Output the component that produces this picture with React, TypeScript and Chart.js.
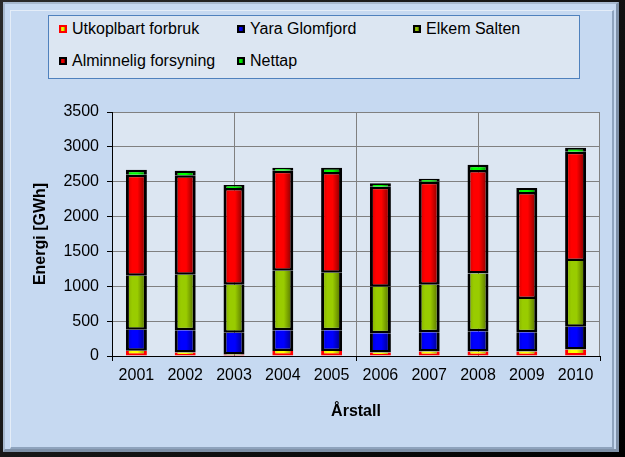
import React, { useEffect, useRef } from "react";
import { Chart, registerables } from "chart.js";

Chart.register(...registerables);

const years = ["2001", "2002", "2003", "2004", "2005", "2006", "2007", "2008", "2009", "2010"];
const utkoplbart = [75, 50, 20, 70, 70, 50, 65, 65, 65, 95];
const yara = [300, 318, 314, 298, 298, 275, 275, 290, 275, 325];
const elkem = [775, 798, 689, 856, 827, 670, 683, 827, 478, 942];
const alminnelig = [1450, 1426, 1387, 1434, 1444, 1434, 1478, 1487, 1534, 1568];
const nettap = [70, 66, 43, 43, 62, 48, 43, 76, 58, 57];

const yTicksMax = 3500;
const yStep = 500;

const FONT = "'Liberation Sans', Arial, sans-serif";
const BAR_PCT = 0.43;

type Series = { label: string; data: number[]; light: string; mid: string; dark: string; border: string; skip: any };
const series: Series[] = [
  { label: "Utkoplbart forbruk", data: utkoplbart, light: "#ffff00", mid: "#d8d800", dark: "#8a8a00", border: "#ff0000", skip: "end" },
  { label: "Yara Glomfjord", data: yara, light: "#0000ff", mid: "#0000c8", dark: "#000070", border: "#000000", skip: "end" },
  { label: "Elkem Salten", data: elkem, light: "#99cc00", mid: "#7fa800", dark: "#4a6300", border: "#000000", skip: "end" },
  { label: "Alminnelig forsyning", data: alminnelig, light: "#ff0000", mid: "#c80000", dark: "#700000", border: "#000000", skip: false },
  { label: "Nettap", data: nettap, light: "#00ff00", mid: "#00c800", dark: "#007000", border: "#000000", skip: "start" },
];

const makeGrad = (s: Series) => (ctx: any) => {
  const chart = ctx.chart;
  const xs = chart.scales && chart.scales.x;
  if (ctx.type !== "data" || !xs || !chart.chartArea) return s.light;
  const cx = xs.getPixelForValue(ctx.dataIndex);
  const w = (xs.width / years.length) * BAR_PCT;
  const g = chart.ctx.createLinearGradient(cx - w / 2, 0, cx + w / 2, 0);
  g.addColorStop(0, s.mid);
  g.addColorStop(0.3, s.light);
  g.addColorStop(0.55, s.light);
  g.addColorStop(1, s.dark);
  return g;
};

const framePlugin = {
  id: "framePlugin",
  beforeDraw(chart: any) {
    const { ctx, chartArea: a } = chart;
    ctx.save();
    ctx.fillStyle = "#dce6f2";
    ctx.fillRect(a.left, a.top, a.right - a.left, a.bottom - a.top);
    ctx.restore();
  },
  beforeDatasetsDraw(chart: any) {
    const { ctx, chartArea: a, scales } = chart;
    const xs = scales.x;
    const px = (i: number) => xs.getPixelForValue(i);
    const lines = [px(2), (px(4) + px(5)) / 2, px(7)];
    ctx.save();
    ctx.strokeStyle = "#808080";
    ctx.lineWidth = 1;
    ctx.beginPath();
    for (const x of lines) {
      const xx = Math.round(x) + 0.5;
      ctx.moveTo(xx, a.top);
      ctx.lineTo(xx, a.bottom);
    }
    const xr = Math.round(a.right) - 0.5;
    ctx.moveTo(xr, a.top);
    ctx.lineTo(xr, a.bottom);
    ctx.stroke();
    ctx.restore();
  },
  afterDraw(chart: any) {
    const { ctx, chartArea: a, scales } = chart;
    const xs = scales.x;
    const px = (i: number) => xs.getPixelForValue(i);
    const half = (px(1) - px(0)) / 2;
    const marks = [px(0) - half, (px(4) + px(5)) / 2, px(years.length - 1) + half];
    ctx.save();
    ctx.strokeStyle = "#000000";
    ctx.lineWidth = 1;
    ctx.beginPath();
    for (const x of marks) {
      const xx = Math.round(x) + 0.5;
      ctx.moveTo(xx, a.bottom);
      ctx.lineTo(xx, a.bottom + 5);
    }
    ctx.stroke();
    ctx.restore();
  },
};

export default function App() {
  const ref = useRef<HTMLCanvasElement | null>(null);

  useEffect(() => {
    document.body.style.margin = "0";
    if (!ref.current) return;
    const chart = new Chart(ref.current, {
      type: "bar",
      data: {
        labels: years,
        datasets: series.map((s) => ({
          label: s.label,
          data: s.data,
          backgroundColor: makeGrad(s),
          borderColor: s.border,
          borderWidth: { left: 3, right: 3, top: 2.5, bottom: 2.5 },
          borderSkipped: s.skip,
          categoryPercentage: 1,
          barPercentage: BAR_PCT,
        })),
      },
      options: {
        animation: false,
        responsive: false,
        maintainAspectRatio: false,
        layout: { padding: { left: 0, top: 112, right: 25, bottom: 0 } },
        plugins: { legend: { display: false }, tooltip: { enabled: false } },
        scales: {
          x: {
            stacked: true,
            afterFit: (s: any) => {
              s.height = 101;
            },
            grid: { display: true, drawOnChartArea: false, drawTicks: false, color: "rgba(0,0,0,0)" },
            border: { display: true, color: "#000000", width: 1 },
            ticks: { color: "#000000", font: { family: FONT, size: 16 }, padding: 10, maxRotation: 0 },
            title: {
              display: true,
              text: "Årstall",
              color: "#000000",
              font: { family: FONT, size: 16, weight: "bold" },
              padding: { top: 0, bottom: 36 },
            },
          },
          y: {
            stacked: true,
            min: 0,
            max: yTicksMax,
            afterFit: (s: any) => {
              s.width = 112;
            },
            grid: { color: "#808080", tickColor: "#000000", tickLength: 5, drawTicks: true },
            border: { display: true, color: "#000000", width: 1 },
            ticks: {
              stepSize: yStep,
              color: "#000000",
              font: { family: FONT, size: 16 },
              padding: 8,
              callback: (v: any) => String(v),
            },
            title: {
              display: true,
              text: "Energi [GWh]",
              color: "#000000",
              font: { family: FONT, size: 16, weight: "bold" },
              padding: { top: 31, bottom: 0 },
            },
          },
        },
      },
      plugins: [framePlugin],
    } as any);
    return () => chart.destroy();
  }, []);

  const colX = [59, 237, 413];
  const rowY = [29, 61];

  return (
    <div style={{ position: "relative", width: 625, height: 457, overflow: "hidden", background: "linear-gradient(135deg, #2a2a2a, #000000)" }}>
      <div
        style={{
          position: "absolute",
          left: 3,
          top: 2,
          width: 616,
          height: 450,
          boxSizing: "border-box",
          background: "#c6d9f1",
          borderTop: "2px solid #a7b9cf",
          borderLeft: "2px solid #a7b9cf",
          borderRight: "3px solid #7f91a8",
          borderBottom: "3px solid #7f91a8",
        }}
      />
      <div
        style={{
          position: "absolute",
          left: 10,
          top: 10,
          width: 604,
          height: 439,
          boxSizing: "border-box",
          borderTop: "1px solid #e4edf8",
          borderLeft: "1px solid #e4edf8",
          borderRight: "2px solid #8ea3bd",
          borderBottom: "2px solid #8ea3bd",
        }}
      />
      <canvas ref={ref} width={625} height={457} style={{ position: "absolute", left: 0, top: 0, width: 625, height: 457 }} />
      <div
        style={{
          position: "absolute",
          left: 48,
          top: 15,
          width: 532,
          height: 64,
          boxSizing: "border-box",
          background: "#dce6f2",
          border: "1px solid #4f81bd",
        }}
      >
        {series.map((s, i) => {
          const col = i < 3 ? i : i - 3;
          const row = i < 3 ? 0 : 1;
          return (
            <div
              key={s.label}
              style={{
                position: "absolute",
                left: colX[col] - 49,
                top: rowY[row] - 16 - 9,
                height: 18,
                display: "flex",
                alignItems: "center",
                whiteSpace: "nowrap",
                fontFamily: FONT,
                fontSize: 16,
                color: "#000",
              }}
            >
              <span
                style={{
                  display: "inline-block",
                  width: 8,
                  height: 8,
                  boxSizing: "border-box",
                  border: `2px solid ${s.border}`,
                  background: `linear-gradient(90deg, ${s.mid}, ${s.light} 50%, ${s.dark})`,
                  marginRight: 5,
                }}
              />
              <span>{s.label}</span>
            </div>
          );
        })}
      </div>
    </div>
  );
}
